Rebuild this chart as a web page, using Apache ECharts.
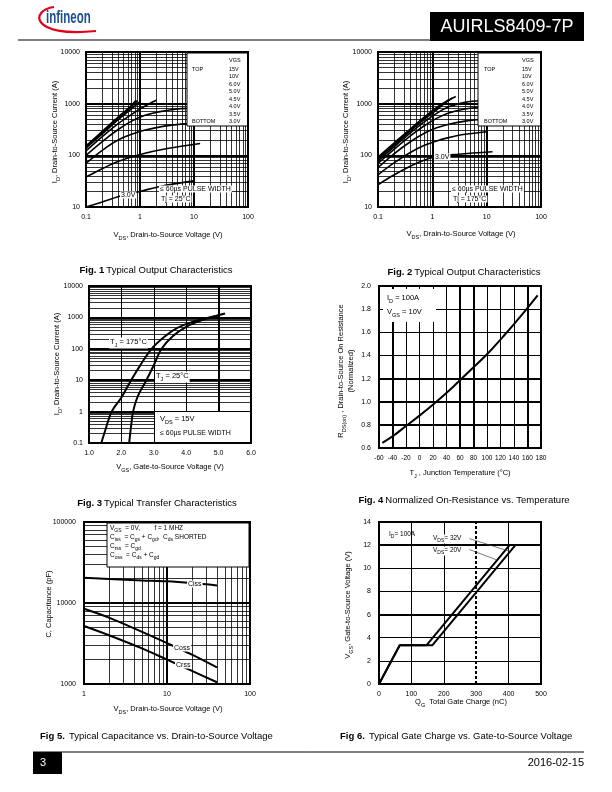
<!DOCTYPE html>
<html><head><meta charset="utf-8">
<script src="https://cdn.jsdelivr.net/npm/echarts@6/dist/echarts.min.js"></script>
<style>html,body{margin:0;padding:0;background:#fff}#c{width:612px;height:792px}</style>
</head><body><div id="c"></div>
<script>
const FONT = 'Liberation Sans, Arial, Helvetica, sans-serif';

// ---------- Fig 1 : Typical output characteristics, Tj = 25°C ----------
const fig1Vgs = ['15V','10V','6.0V','5.0V','4.5V','4.0V','3.5V','3.0V'];
const fig1_15V_vds = [0.1,0.2,0.4,0.6,0.85];
const fig1_15V_id  = [152,290,560,800,1180];
const fig1_10V_vds = [0.1,0.2,0.4,0.6,0.9];
const fig1_10V_id  = [145,275,530,760,1140];
const fig1_6V_vds  = [0.1,0.2,0.4,0.6,1.0];
const fig1_6V_id   = [137,260,495,700,1090];
const fig1_5V_vds  = [0.1,0.2,0.4,0.7,1.2,2.0];
const fig1_5V_id   = [122,230,415,620,880,1160];
const fig1_45V_vds = [0.1,0.2,0.4,0.7,1.2,2.5,5,10];
const fig1_45V_id  = [100,185,320,460,590,710,790,820];
const fig1_4V_vds  = [0.1,0.2,0.4,0.7,1.2,2.5,5,10];
const fig1_4V_id   = [70,125,200,255,305,360,395,420];
const fig1_35V_vds = [0.1,0.2,0.38,1.0,3.2,13];
const fig1_35V_id  = [38,55,75,104,136,170];
const fig1_3V_vds  = [0.1,0.2,0.5,1.0,2.35,10];
const fig1_3V_id   = [10,12.5,17,20,25,32];

// ---------- Fig 2 : Typical output characteristics, Tj = 175°C ----------
const fig2_15V_vds = [0.1,0.2,0.4,0.7,1.2,1.8,2.7];
const fig2_15V_id  = [92,175,330,540,850,1100,1380];
const fig2_10V_vds = [0.1,0.2,0.4,0.7,1.2,1.8,2.3];
const fig2_10V_id  = [88,168,315,515,810,1060,1300];
const fig2_6V_vds  = [0.1,0.2,0.4,0.7,1.2,2.0];
const fig2_6V_id   = [84,160,300,490,760,1200];
const fig2_5V_vds  = [0.1,0.2,0.4,0.7,1.2,2,4,8];
const fig2_5V_id   = [78,148,275,440,650,870,1060,1150];
const fig2_45V_vds = [0.1,0.2,0.4,0.7,1.2,2,4,8];
const fig2_45V_id  = [70,132,240,370,520,660,790,850];
const fig2_4V_vds  = [0.1,0.2,0.4,0.7,1.2,2,4,8];
const fig2_4V_id   = [58,108,185,265,340,400,460,500];
const fig2_35V_vds = [0.1,0.2,0.4,0.7,1.2,2,4,10];
const fig2_35V_id  = [42,72,115,155,190,220,255,287];
const fig2_3V_vds  = [0.1,0.2,0.4,0.7,1.2,3,12.8];
const fig2_3V_id   = [27,42,62,80,95,105,117];

// ---------- Fig 3 : Typical transfer characteristics ----------
const fig3_175_vgs = [1.38,1.5,1.7,2.0,2.3,2.6,2.93,3.3,3.7,4.2,4.6,5.0];
const fig3_175_id  = [0.1,0.25,1.0,2.8,10,32,100,230,450,720,940,1150];
const fig3_25_vgs  = [2.24,2.3,2.36,2.5,2.77,3.0,3.24,3.6,4.0,4.4,4.8,5.2];
const fig3_25_id   = [0.1,0.35,1.0,3.0,10,30,100,260,500,760,1020,1330];

// ---------- Fig 4 : Normalized on-resistance vs temperature ----------
const fig4_tj = [-55,-40,-20,0,25,50,75,100,125,150,175];
const fig4_r  = [0.645,0.70,0.79,0.88,1.00,1.13,1.27,1.41,1.57,1.74,1.92];

// ---------- Fig 5 : Typical capacitance ----------
const fig5_vds  = [1,2,5,10,20,40];
const fig5_ciss = [20500,19800,19000,18500,17600,16500];
const fig5_coss = [8500,6600,4400,3200,2300,1600];
const fig5_crss = [5200,4000,2750,2000,1450,1050];

// ---------- Fig 6 : Typical gate charge ----------
const fig6_20V_qg  = [0,64,147,403];
const fig6_20V_vgs = [0,3.35,3.35,12.0];
const fig6_32V_qg  = [0,64,165,421];
const fig6_32V_vgs = [0,3.35,3.35,12.0];

// ---------- layout ----------
const G = [
  {left:86,  top:52,  width:162, height:155},
  {left:378, top:52,  width:163, height:155},
  {left:89,  top:286, width:162, height:157},
  {left:379, top:286, width:162, height:162},
  {left:84,  top:522, width:166, height:162},
  {left:379, top:522, width:162, height:162}
];

const zip = (a,b) => a.map((v,i) => [v,b[i]]);
function logMinors(e0, e1){ const r=[]; for(let e=e0;e<e1;e++){ for(let k=2;k<=9;k++) r.push(Number((k*Math.pow(10,e)).toPrecision(3))); } return r; }
function logMajors(e0, e1){ const r=[]; for(let e=e0+1;e<e1;e++) r.push(Number(Math.pow(10,e).toPrecision(3))); return r; }
const V = (vals,w,type) => vals.map(v => ({xAxis:v, lineStyle:{width:w, color:'#000', type:type||'solid'}}));
const H = (vals,w,type) => vals.map(v => ({yAxis:v, lineStyle:{width:w, color:'#000', type:type||'solid'}}));
function gridMark(items){
  return {silent:true, symbol:['none','none'], label:{show:false}, animation:false, emphasis:{disabled:true},
          lineStyle:{color:'#000'}, data: items};
}
const gridLines = [
  [...V(logMinors(-1,2),0.8), ...V(logMajors(-1,2),2), ...H(logMinors(1,4),0.8), ...H(logMajors(1,4),2)],
  [...V(logMinors(-1,2),0.8), ...V(logMajors(-1,2),2), ...H(logMinors(1,4),0.8), ...H(logMajors(1,4),2)],
  [...V([2,3,4],1), ...V([5],2), ...H(logMinors(-1,4),0.8), ...H(logMajors(-1,4),2)],
  [...V([-20,0,20,40,100,120,140],1), ...V([-40,60,80,160],2), ...H([1.4,1.6,1.8],1), ...H([0.8,1.0,1.2],2)],
  [...V(logMinors(0,2),0.8), ...V(logMajors(0,2),2), ...H(logMinors(3,5),0.8), ...H(logMajors(3,5),2)],
  [...V([100,200,400],1), ...V([300],2,[3,2]), ...H([2,4,8,10],1), ...H([6,12],2)]
];

const fmtLog = v => String(Number(Number(v).toPrecision(4)));
const lbl = (extra) => Object.assign({color:'#000', fontSize:7, fontFamily:FONT, margin:5, hideOverlap:false}, extra||{});
const baseAxis = (i, extra) => Object.assign({gridIndex:i, axisLine:{show:false}, axisTick:{show:false},
   splitLine:{show:false}, minorTick:{show:false}}, extra);

const xAxis = [
  baseAxis(0,{type:'log', logBase:10, min:0.1, max:100, splitNumber:3, axisLabel:lbl({formatter:fmtLog, margin:7})}),
  baseAxis(1,{type:'log', logBase:10, min:0.1, max:100, splitNumber:3, axisLabel:lbl({formatter:fmtLog, margin:7})}),
  baseAxis(2,{type:'value', min:1, max:6, interval:1, axisLabel:lbl({formatter:v=>v.toFixed(1), margin:7})}),
  baseAxis(3,{type:'value', min:-60, max:180, interval:20, axisLabel:lbl({fontSize:6.5, interval:0, margin:7})}),
  baseAxis(4,{type:'log', logBase:10, min:1, max:100, splitNumber:2, axisLabel:lbl({formatter:fmtLog, margin:7})}),
  baseAxis(5,{type:'value', min:0, max:500, interval:100, axisLabel:lbl({margin:7})})
];
const yAxis = [
  baseAxis(0,{type:'log', logBase:10, min:10, max:10000, splitNumber:3, axisLabel:lbl({formatter:fmtLog, margin:6})}),
  baseAxis(1,{type:'log', logBase:10, min:10, max:10000, splitNumber:3, axisLabel:lbl({formatter:fmtLog, margin:6})}),
  baseAxis(2,{type:'log', logBase:10, min:0.1, max:10000, splitNumber:5, axisLabel:lbl({formatter:fmtLog, margin:6})}),
  baseAxis(3,{type:'value', min:0.6, max:2.0, interval:0.2, axisLabel:lbl({formatter:v=>v.toFixed(1), margin:8})}),
  baseAxis(4,{type:'log', logBase:10, min:1000, max:100000, splitNumber:2, axisLabel:lbl({formatter:fmtLog, margin:8})}),
  baseAxis(5,{type:'value', min:0, max:14, interval:2, axisLabel:lbl({margin:8})})
];

function curve(gi, data, opts){
  return Object.assign({type:'line', xAxisIndex:gi, yAxisIndex:gi, data:data, symbol:'none', showSymbol:false,
    smooth:0.35, lineStyle:{color:'#000', width:2}, z:3, animation:false, silent:true}, opts||{});
}

const series = [];
const f1 = [[fig1_15V_vds,fig1_15V_id],[fig1_10V_vds,fig1_10V_id],[fig1_6V_vds,fig1_6V_id],[fig1_5V_vds,fig1_5V_id],
            [fig1_45V_vds,fig1_45V_id],[fig1_4V_vds,fig1_4V_id],[fig1_35V_vds,fig1_35V_id],[fig1_3V_vds,fig1_3V_id]];
f1.forEach((c,i) => series.push(curve(0, zip(c[0],c[1]), {name:'Fig1 '+fig1Vgs[i], lineStyle:{color:'#000',width:1.6}})));
const f2 = [[fig2_15V_vds,fig2_15V_id],[fig2_10V_vds,fig2_10V_id],[fig2_6V_vds,fig2_6V_id],[fig2_5V_vds,fig2_5V_id],
            [fig2_45V_vds,fig2_45V_id],[fig2_4V_vds,fig2_4V_id],[fig2_35V_vds,fig2_35V_id],[fig2_3V_vds,fig2_3V_id]];
f2.forEach((c,i) => series.push(curve(1, zip(c[0],c[1]), {name:'Fig2 '+fig1Vgs[i], lineStyle:{color:'#000',width:1.6}})));
series.push(curve(2, zip(fig3_175_vgs, fig3_175_id), {name:'TJ 175'}));
series.push(curve(2, zip(fig3_25_vgs, fig3_25_id), {name:'TJ 25'}));
series.push(curve(3, zip(fig4_tj, fig4_r), {name:'RDSon'}));
series.push(curve(4, zip(fig5_vds, fig5_ciss), {name:'Ciss'}));
series.push(curve(4, zip(fig5_vds, fig5_coss), {name:'Coss'}));
series.push(curve(4, zip(fig5_vds, fig5_crss), {name:'Crss'}));
series.push(curve(5, zip(fig6_20V_qg, fig6_20V_vgs), {name:'VDS 20V', smooth:false}));
series.push(curve(5, zip(fig6_32V_qg, fig6_32V_vgs), {name:'VDS 32V', smooth:false}));

// attach grid lines to the first curve of each figure
const firstIdx = [0, 8, 16, 18, 19, 22];
firstIdx.forEach((si,gi) => { series[si].markLine = gridMark(gridLines[gi]); });
// leader lines in fig 6
series[23].markLine = {silent:true, symbol:['none','none'], label:{show:false}, animation:false,
  lineStyle:{color:'#444', width:0.7, type:'solid'},
  data:[ [{coord:[279,12.56]},{coord:[404,11.46]}], [{coord:[279,11.62]},{coord:[364,10.72]}] ]};

// ---------- graphics ----------
const gfx = [];
const rich = {
  m:{fontSize:7.5, fontFamily:FONT, color:'#000', lineHeight:11, verticalAlign:'top'},
  s:{fontSize:5.5, fontFamily:FONT, color:'#000', verticalAlign:'bottom'},
  m6:{fontSize:6.5, fontFamily:FONT, color:'#000', lineHeight:9, verticalAlign:'top'},
  s6:{fontSize:5, fontFamily:FONT, color:'#000', verticalAlign:'bottom'},
  b:{fontSize:9.5, fontFamily:FONT, fontWeight:'bold', color:'#000'},
  n:{fontSize:9.5, fontFamily:FONT, color:'#000'}
};
function R(parts, small){ return parts.map(p => Array.isArray(p) ? `{${small?'s6':'s'}|${p[0]}}` : `{${small?'m6':'m'}|${p}}`).join(''); }
function text(x,y,t,opt){
  opt = opt||{};
  gfx.push({type:'text', x:x, y:y, rotation:opt.rot||0, z:opt.z||120, silent:true,
    style:Object.assign({text:t, rich:rich, align:opt.align||'center', verticalAlign:'middle', fill:'#000',
       font:(opt.size||7.5)+'px '+FONT}, opt.bg?{backgroundColor:'#fff', padding:opt.pad||[0,1]}:{}, opt.style||{})});
}
function rect(x,y,w,h,opt){
  opt=opt||{};
  gfx.push({type:'rect', z:opt.z||100, silent:true, shape:{x:x,y:y,width:w,height:h},
    style:{fill:opt.fill===undefined?'#fff':opt.fill, stroke:opt.stroke||null, lineWidth:opt.lw||1}});
}

// frames
G.forEach(g => rect(g.left, g.top, g.width, g.height, {fill:null, stroke:'#000', lw:2, z:150}));

// header
gfx.push({type:'bezierCurve', z:120, silent:true, shape:{x1:54,y1:7,cpx1:30,cpy1:10,cpx2:30,cpy2:38,x2:96,y2:31},
  style:{stroke:'#e2001a', lineWidth:2.2, fill:null}});
gfx.push({type:'text', x:46, y:18, scaleX:0.64, z:121, silent:true, style:{text:'infineon', fill:'#1d4f91',
  font:'bold 18px '+FONT, align:'left', verticalAlign:'middle'}});
gfx.push({type:'line', z:110, silent:true, shape:{x1:18,y1:40,x2:430,y2:40}, style:{stroke:'#000', lineWidth:1.2}});
rect(430,12,154,29,{fill:'#000', z:110});
text(507,27,'AUIRLS8409-7P',{size:18, style:{fill:'#fff'}});
// footer
gfx.push({type:'line', z:110, silent:true, shape:{x1:33,y1:752,x2:584,y2:752}, style:{stroke:'#000', lineWidth:1}});
rect(33,752,29,22,{fill:'#000', z:110});
text(40,763,'3',{size:11, align:'left', style:{fill:'#fff'}});
text(584,763,'2016-02-15',{size:11, align:'right'});

// captions
text(156,270,'{b|Fig. 1} {n|Typical Output Characteristics}');
text(464,272,'{b|Fig. 2} {n|Typical Output Characteristics}');
text(157,503,'{b|Fig. 3} {n|Typical Transfer Characteristics}');
text(464,500,'{b|Fig. 4} {n|Normalized On-Resistance vs. Temperature}');
text(40,736,'{b|Fig 5.}  {n|Typical Capacitance vs. Drain-to-Source Voltage}',{align:'left'});
text(340,736,'{b|Fig 6.}  {n|Typical Gate Charge vs. Gate-to-Source Voltage}',{align:'left'});

// axis titles
const ROT = Math.PI/2;
text(168,236,R(['V',['DS'],', Drain-to-Source Voltage (V)']));
text(56,132,R(['I',['D'],', Drain-to-Source Current (A)']),{rot:ROT});
text(461,235,R(['V',['DS'],', Drain-to-Source Voltage (V)']));
text(347,132,R(['I',['D'],', Drain-to-Source Current (A)']),{rot:ROT});
text(170,468,R(['V',['GS'],', Gate-to-Source Voltage (V)']));
text(58,364,R(['I',['D'],', Drain-to-Source Current (A)']),{rot:ROT});
text(460,474,R(['T',['J'],' , Junction Temperature (°C)']));
text(342,371,R(['R',['DS(on)'],' , Drain-to-Source On Resistance']),{rot:ROT});
text(352,371,R(['(Normalized)']),{rot:ROT});
text(168,710,R(['V',['DS'],', Drain-to-Source Voltage (V)']));
text(50,604,R(['C, Capacitance (pF)']),{rot:ROT});
text(461,703,R(['Q',['G'],'  Total Gate Charge (nC)']));
text(349,605,R(['V',['GS'],', Gate-to-Source Voltage (V)']),{rot:ROT});

// Fig 1 / Fig 2 legend boxes
rect(187,53,61,73,{stroke:'#000', lw:1});
rect(478,53,63,73,{stroke:'#000', lw:1});
[[229,192],[522,484]].forEach(([vx,tx]) => {
  text(vx,60,'VGS',{size:5.5, align:'left'});
  text(tx,69,'TOP',{size:5.5, align:'left'});
  text(tx,121.5,'BOTTOM',{size:5.5, align:'left'});
  fig1Vgs.forEach((s,i) => text(vx, 69 + i*7.5, s, {size:5.5, align:'left'}));
});
// Fig 1 notes
text(120,195,'3.0V',{size:7, align:'left', bg:true});
text(159,189,'≤ 60µs PULSE WIDTH',{size:7, align:'left', bg:true});
text(160,199,'Tj = 25°C',{size:7, align:'left', bg:true});
// Fig 2 notes
text(434,157,'3.0V',{size:7, align:'left', bg:true});
text(451,189,'≤ 60µs PULSE WIDTH',{size:7, align:'left', bg:true});
text(452,199,'Tj = 175°C',{size:7, align:'left', bg:true});
// Fig 3 notes
text(109,343,R(['T',['J'],' = 175°C']),{align:'left', bg:true});
text(155,377,R(['T',['J'],' = 25°C']),{align:'left', bg:true});
rect(155,412,95,30);
text(160,420,R(['V',['DS'],' = 15V']),{align:'left'});
text(160,433,'≤ 60µs PULSE WIDTH',{size:7, align:'left'});
// Fig 4 notes
rect(383,289,53,33);
text(387,299,R(['I',['D'],' = 100A']),{align:'left'});
text(387,313,R(['V',['GS'],' = 10V']),{align:'left'});
// Fig 5 notes
rect(107,523,142,44,{stroke:'#000', lw:1});
text(110,529,R(['V',['GS'],'  = 0V,        f = 1 MHZ'],true),{align:'left'});
text(110,538,R(['C',['iss'],'  = C',['gs'],' + C',['gd'],',  C',['ds'],' SHORTED'],true),{align:'left'});
text(110,547,R(['C',['rss'],'  = C',['gd']],true),{align:'left'});
text(110,556,R(['C',['oss'],'  = C',['ds'],' + C',['gd']],true),{align:'left'});
text(187,584,'Ciss',{size:7, align:'left', bg:true});
text(173,648,'Coss',{size:7, align:'left', bg:true});
text(175,665,'Crss',{size:7, align:'left', bg:true});
// Fig 6 notes
text(389,535,R(['I',['D'],'= 100A'],true),{align:'left'});
text(432,539,R(['V',['DS'],'= 32V'],true),{align:'left', bg:true});
text(432,551,R(['V',['DS'],'= 20V'],true),{align:'left', bg:true});

const chart = echarts.init(document.getElementById('c'), null, {renderer:'canvas', width:612, height:792});
chart.setOption({
  animation:false,
  backgroundColor:'#fff',
  grid: G.map(g => Object.assign({show:false, containLabel:false}, g)),
  xAxis: xAxis,
  yAxis: yAxis,
  series: series,
  graphic: {elements: gfx}
});
</script>
</body></html>
